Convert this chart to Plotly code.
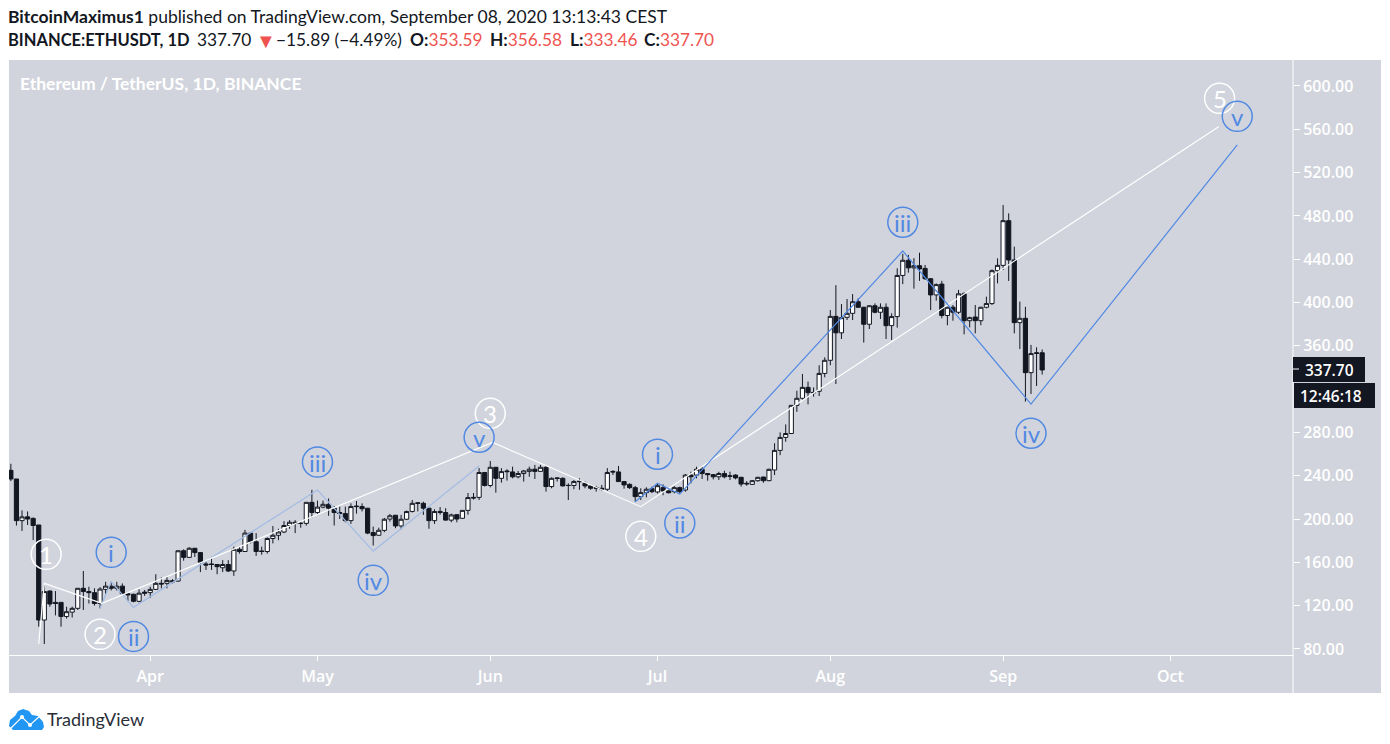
# ETHUSDT daily candles with hand drawn elliott wave counts

import pandas as pd
import plotly.graph_objects as go

W = 1390
H = 744

dates = pd.date_range("2020-03-07", "2020-09-08", freq="D")

opens = [245, 237, 198.5, 202, 200.6, 194.5, 106.7, 133.5, 123, 123, 110, 114, 117.5, 136, 133, 132, 122, 135, 138, 136, 138, 131, 130.5, 124, 132.5,
         132, 135, 140.6, 140.6, 143, 142.7, 170.7, 164.6, 173, 169, 158.5, 158.5, 158, 155, 158, 152, 172, 170, 187, 179, 170.5, 170, 182, 185, 188, 194, 197, 196, 196, 215.4,
         206, 211, 213.6, 210, 206, 205, 198.5, 212, 211.5, 210, 187.5, 185, 189.5, 200, 203.5, 193.6, 199.8, 207, 215, 214.5, 210, 198.5, 207, 206, 199, 204, 200.7, 208, 220, 220, 243,
         231, 247.8, 237.6, 244.4, 243.5, 239, 242, 244, 246, 244, 247.8, 230, 238, 237.6, 231, 231, 235, 233, 230.6, 229, 228.4, 227.5, 244, 243.5, 234.6, 232, 229, 220.7, 224.4, 228,
         225, 229, 226, 225.3, 229, 226.8, 240.6, 240.6, 246, 242, 241, 239, 242, 240, 240.6, 238.5, 233, 232, 235.4, 238.8, 235.4, 245.3, 263.4, 275.4, 279, 305, 311.5, 321.6, 317, 318, 334.5,
         346.6, 387.2, 372, 386.3, 390, 400.7, 395.6, 379.9, 397, 391, 395.6, 378.6, 387, 425, 439, 432, 434, 431.5, 422, 407, 417, 388, 395.6, 391, 408, 383.2, 386.6, 383.2, 395.6, 399, 429.4,
         434.3, 475.6, 439.3, 381.4, 385.4, 335.2, 353.6, 353.59]
highs = [251, 237, 208, 207, 201.5, 194.5, 139, 134, 133.5, 123, 119, 119, 136, 152, 137.5, 136, 137, 142, 142, 142, 140.5, 132, 131, 135, 134.5,
         137.5, 149, 146, 147, 144.5, 171, 172, 174, 173, 169, 160.5, 165, 158, 162, 162, 174.5, 174.5, 190, 188, 187, 174.5, 183, 193.5, 191, 198, 199, 199, 197.5, 215.4, 227,
         217, 217, 219, 212, 211.5, 211.5, 214.5, 216.7, 214.5, 210, 193, 192, 201, 204.7, 203.5, 203.8, 207.8, 217.6, 215.2, 216, 210, 209, 211, 210, 205, 204.5, 208, 224, 224, 247, 243,
         253.6, 248, 247, 246, 248.4, 244.4, 245.3, 248.4, 250, 250, 249.3, 238.5, 238.5, 238.5, 233, 236, 237.6, 234.6, 231.5, 230.6, 231.5, 247, 245, 249, 235, 233, 230.6, 228.4, 229.3, 229.9,
         233, 232, 227, 230.5, 229.9, 241.6, 243.7, 248.3, 248.3, 242, 241.6, 243.7, 244.6, 243.7, 241.3, 239, 235, 236, 239, 239, 246.5, 270, 280, 287.4, 305.3, 318.5, 334, 326.9, 321.6, 342, 349.3,
         393, 416, 398.6, 403.2, 407.8, 403.9, 396, 397.7, 399.2, 399.2, 399.2, 390, 431.6, 445, 444, 441, 446, 434.7, 422.3, 417.7, 420, 396, 397.7, 411.6, 409.4, 387, 397.7, 396, 405.4, 430.6, 440.8,
         490, 482.4, 451.6, 400.8, 396, 360.8, 358.6, 356.58]
lows = [235, 194, 189, 194.5, 180.6, 100.5, 84.5, 119, 111, 100.5, 108, 109, 116, 116, 122, 120, 117.5, 131, 134, 134, 130, 124, 123, 123, 129,
        127, 134.5, 136, 136, 140.5, 142, 161.5, 164, 165, 151, 153, 153, 149, 151, 151, 147.5, 168, 169.5, 177.5, 166, 167, 168, 177.5, 180.5, 187, 191, 187, 192, 194, 201.5,
        204, 210, 203, 194, 200, 197, 195.5, 205, 207, 186, 175.5, 184.7, 187.8, 197.6, 191.5, 190.5, 199, 206, 207, 203.8, 191, 195.5, 204, 198.5, 197, 197, 200, 204, 218, 217.6, 230,
        229.3, 224.4, 233.6, 235.5, 237.6, 237.6, 234.6, 239, 237, 243.8, 225.3, 228.4, 234.6, 230, 217.6, 227.5, 227, 228.4, 227, 225.3, 226.2, 226, 240.7, 234.5, 228, 227.8, 216, 217.6, 220, 224,
        223.6, 222, 223.6, 223.7, 223.7, 225.3, 233, 237.6, 237, 235.4, 236.6, 236, 237.6, 236, 236.6, 229.9, 230.8, 231.4, 234.5, 233.5, 235, 240.6, 259, 271.4, 279, 299, 310, 305.9, 313, 313.6, 330.9,
        342, 324.7, 366.3, 383.8, 383.8, 395, 363, 375.5, 390, 384.8, 366.3, 365.4, 376.8, 417, 427.6, 412.8, 420, 420.8, 393, 401.7, 385.4, 379, 383.2, 389.4, 370.6, 377, 371.5, 379, 394.6, 397.7, 417.7,
        430, 419.9, 371.5, 357, 308.4, 315.5, 322.9, 333.46]
closes = [237, 198.5, 202, 200, 194, 106.7, 133, 121.5, 122, 110, 114.4, 117.5, 136, 133, 132, 122, 135.3, 138, 136, 138, 131, 130, 124, 131.5, 131.5,
          135, 140.6, 140, 143.3, 142, 170.7, 164.6, 173, 169, 160, 157.5, 158, 156, 158, 152, 172, 170, 187, 179, 170, 170, 182, 185, 188, 194, 197, 196, 196, 215.4, 206,
          211, 213.6, 210, 206, 205, 198.5, 211.5, 211.5, 209.5, 187, 184.7, 189.6, 199.8, 203, 193.6, 199.8, 206.9, 214.5, 214.5, 210, 198.5, 206.9, 206, 199, 203.8, 200, 208, 219.8, 219.5, 243, 231,
          247.8, 237.6, 243.8, 243.8, 239, 242, 244.4, 246, 244, 247.8, 230, 237.6, 237.5, 230.6, 231, 234.6, 234.5, 230.6, 228.4, 228.4, 227.5, 243, 243.5, 234.6, 231.5, 229, 220.7, 224.4, 227.5, 225.3,
          230.8, 226, 224.3, 229, 225.3, 240.6, 239, 246, 242, 241, 239, 242, 239, 239.5, 238, 232.3, 232.5, 235.4, 238.5, 235.4, 245.9, 263.4, 275.4, 279, 305, 311.5, 321.6, 316.7, 316.7, 334.5, 346.6,
          387.2, 372, 386, 390, 400.7, 395.6, 379.9, 397, 391, 395.6, 378.6, 387, 425, 439, 432, 434, 431, 422, 407, 416.5, 388, 395.6, 391, 408, 383.2, 386, 383.2, 395.6, 399, 429.4, 434.3,
          475.6, 439.3, 381.4, 385.4, 335.2, 352.8, 353, 337.7]

# wave lines
main_wave_dates = ["2020-03-12", "2020-03-13", "2020-03-23 08:00", "2020-06-01 10:00", "2020-06-28", "2020-10-09 16:00"]
main_wave_prices = [84.5, 140.6, 122.1, 270.8, 211.4, 562.4]
minor_wave_dates = ["2020-03-23", "2020-03-25", "2020-03-29", "2020-05-01", "2020-05-11", "2020-05-30"]
minor_wave_prices = [117.5, 142.1, 118.4, 226.8, 170.4, 249]
last_wave_dates = ["2020-06-27", "2020-07-01", "2020-07-05", "2020-08-14", "2020-09-06", "2020-10-13"]
last_wave_prices = [216, 233, 223, 447.6, 306.2, 545.5]

# labels in circles
white_labels = ["1", "2", "3", "4", "5"]
white_label_dates = ["2020-03-13 08:00", "2020-03-23", "2020-06-01", "2020-06-28", "2020-10-09 20:00"]
white_label_prices = [167.4, 93.5, 297.6, 184, 588.6]
blue_labels = ["i", "ii", "iii", "iv", "v", "i", "ii", "iii", "iv", "v"]
blue_label_dates = ["2020-03-25", "2020-03-29", "2020-05-01", "2020-05-11", "2020-05-30", "2020-07-01", "2020-07-05", "2020-08-14", "2020-09-06", "2020-10-13"]
blue_label_prices = [169.2, 91.6, 252.6, 143.4, 275.5, 259.8, 196.3, 474.1, 279.2, 572]

# 320 sits behind the price tags in the original so it is left out
y_ticks = [80, 120, 160, 200, 240, 280, 360, 400, 440, 480, 520, 560, 600]
x_tick_dates = ["2020-04-01", "2020-05-01", "2020-06-01", "2020-07-01", "2020-08-01", "2020-09-01", "2020-10-01"]
x_tick_labels = ["Apr", "May", "Jun", "Jul", "Aug", "Sep", "Oct"]

PANEL = "#d1d4dc"
DARK = "#131722"
BLUE = "#5189e3"
RED = "#ef5350"
AXIS_FONT = dict(family="Open Sans", size=16, color="white", weight=600)


def px(x):
    return x / W


def py(y):
    return 1 - y / H


fig = go.Figure()
fig.add_trace(go.Candlestick(x=dates, open=opens, high=highs, low=lows, close=closes,
                             increasing=dict(fillcolor="white", line=dict(color=DARK, width=1)),
                             decreasing=dict(fillcolor=DARK, line=dict(color=DARK, width=1)),
                             whiskerwidth=0, hoverinfo="skip", showlegend=False))
fig.add_trace(go.Scatter(x=minor_wave_dates, y=minor_wave_prices, mode="lines", hoverinfo="skip",
                         line=dict(color="#a3bce4", width=1.2), showlegend=False))
fig.add_trace(go.Scatter(x=main_wave_dates, y=main_wave_prices, mode="lines", hoverinfo="skip",
                         line=dict(color="white", width=1.2), showlegend=False))
fig.add_trace(go.Scatter(x=last_wave_dates, y=last_wave_prices, mode="lines", hoverinfo="skip",
                         line=dict(color=BLUE, width=1.2), showlegend=False))

shapes = [
    # grey panel, the plot area is only part of it
    dict(type="rect", xref="paper", yref="paper", x0=px(9), x1=px(1381), y0=py(693), y1=py(60),
         fillcolor=PANEL, line_width=0, layer="below"),
    dict(type="line", xref="paper", yref="paper", x0=px(1293), x1=px(1293), y0=py(693), y1=py(60),
         line=dict(color="white", width=1)),
    # last price and countdown tags
    dict(type="rect", xref="paper", yref="paper", x0=px(1293), x1=px(1365), y0=py(382), y1=py(357),
         fillcolor=DARK, line_width=0),
    dict(type="rect", xref="paper", yref="paper", x0=px(1294), x1=px(1375), y0=py(408), y1=py(383),
         fillcolor=DARK, line_width=0),
    dict(type="line", xref="paper", yref="paper", x0=px(1293), x1=px(1299), y0=py(369), y1=py(369),
         line=dict(color="white", width=1)),
    # tradingview logo
    dict(type="path", xref="paper", yref="paper", fillcolor="#2196f3", line_width=0,
         path="M {} {} ".format(px(13), py(730)) +
              " ".join("L {} {}".format(px(x), py(y)) for x, y in
                       [(9, 726), (10, 720), (15, 716), (18, 711), (23, 709), (29, 711), (32, 715),
                        (38, 716), (43, 722), (44, 727), (42, 730)]) + " Z"),
    dict(type="path", xref="paper", yref="paper", line=dict(color="white", width=1.2),
         path="M {} {} ".format(px(10), py(729)) +
              " ".join("L {} {}".format(px(x), py(y)) for x, y in [(22, 717), (30, 725), (42, 714)])),
    dict(type="circle", xref="paper", yref="paper", x0=px(20), x1=px(24), y0=py(719), y1=py(715),
         fillcolor="white", line_width=0),
    dict(type="circle", xref="paper", yref="paper", x0=px(28), x1=px(32), y0=py(727), y1=py(723),
         fillcolor="white", line_width=0),
]

annotations = []


def add_label(text, date, price, color):
    shapes.append(dict(type="circle", xref="x", yref="y", xsizemode="pixel", ysizemode="pixel",
                       xanchor=date, yanchor=price, x0=-15, x1=15, y0=-15, y1=15,
                       line=dict(color=color, width=1.5)))
    annotations.append(dict(x=date, y=price, xref="x", yref="y", text=text, showarrow=False,
                            font=dict(family="Lato", size=24, color=color)))


for i in range(len(white_labels)):
    add_label(white_labels[i], white_label_dates[i], white_label_prices[i], "white")
for i in range(len(blue_labels)):
    add_label(blue_labels[i], blue_label_dates[i], blue_label_prices[i], BLUE)


def add_text(text, x, y, size=17.3, color=DARK, anchor="left", family="Lato", weight="normal", height=None):
    annotations.append(dict(x=px(x), y=py(y), xref="paper", yref="paper", text=text, showarrow=False,
                            xanchor=anchor, yanchor="middle", height=height, borderpad=0,
                            font=dict(family=family, size=size, color=color, weight=weight)))


def red(text):
    return '<span style="color:{}">{}</span>'.format(RED, text)


add_text("<b>BitcoinMaximus1</b> published on TradingView.com, September 08, 2020 13:13:43 CEST", 7, 17, size=17.5)
add_text("<b>BINANCE:ETHUSDT, 1D</b>", 7, 40, size=16.5)
add_text("337.70", 196, 40)
add_text(red("▼"), 255, 40, size=20)
add_text("−15.89 (−4.49%)", 275, 40)
add_text("<b>O:</b>" + red("353.59"), 409, 40)
add_text("<b>H:</b>" + red("356.58"), 489, 40)
add_text("<b>L:</b>" + red("333.46"), 569, 40)
add_text("<b>C:</b>" + red("337.70"), 643, 40)
add_text("<b>Ethereum / TetherUS, 1D, BINANCE</b>", 19, 83, size=17.5, color="white")
add_text("337.70", 1329, 369, size=15.5, color="white", anchor="center", family="Open Sans", weight=600, height=19)
add_text("12:46:18", 1331, 395, size=15.5, color="white", anchor="center", family="Open Sans", weight=600, height=19)
add_text("TradingView", 46, 719, size=18, color="#2a2e39")

fig.update_layout(width=W, height=H, autosize=False, margin=dict(l=0, r=0, t=0, b=0),
                  paper_bgcolor="white", plot_bgcolor=PANEL, boxgap=0.25, boxgroupgap=0, dragmode=False,
                  shapes=shapes, annotations=annotations, showlegend=False)
fig.update_xaxes(domain=[px(9), px(1293)], type="date", range=["2020-03-06 16:00", "2020-10-23 00:00"],
                 rangeslider_visible=False, showgrid=False, zeroline=False, automargin=False,
                 tickmode="array", tickvals=x_tick_dates, ticktext=x_tick_labels,
                 ticks="outside", ticklen=5, tickcolor="white", tickwidth=1,
                 showline=True, linecolor="white", linewidth=1, tickfont=AXIS_FONT, ticklabelstandoff=2)
fig.update_yaxes(domain=[py(655), py(60)], range=[74.4, 624], side="right", anchor="x",
                 showgrid=False, zeroline=False, automargin=False,
                 tickmode="array", tickvals=y_ticks, tickformat=".2f",
                 ticks="outside", ticklen=6, tickcolor="white", tickwidth=1,
                 showline=False, tickfont=AXIS_FONT)

fig.write_html("out.html", config=dict(displayModeBar=False),
               post_script="document.body.style.margin='0';")
